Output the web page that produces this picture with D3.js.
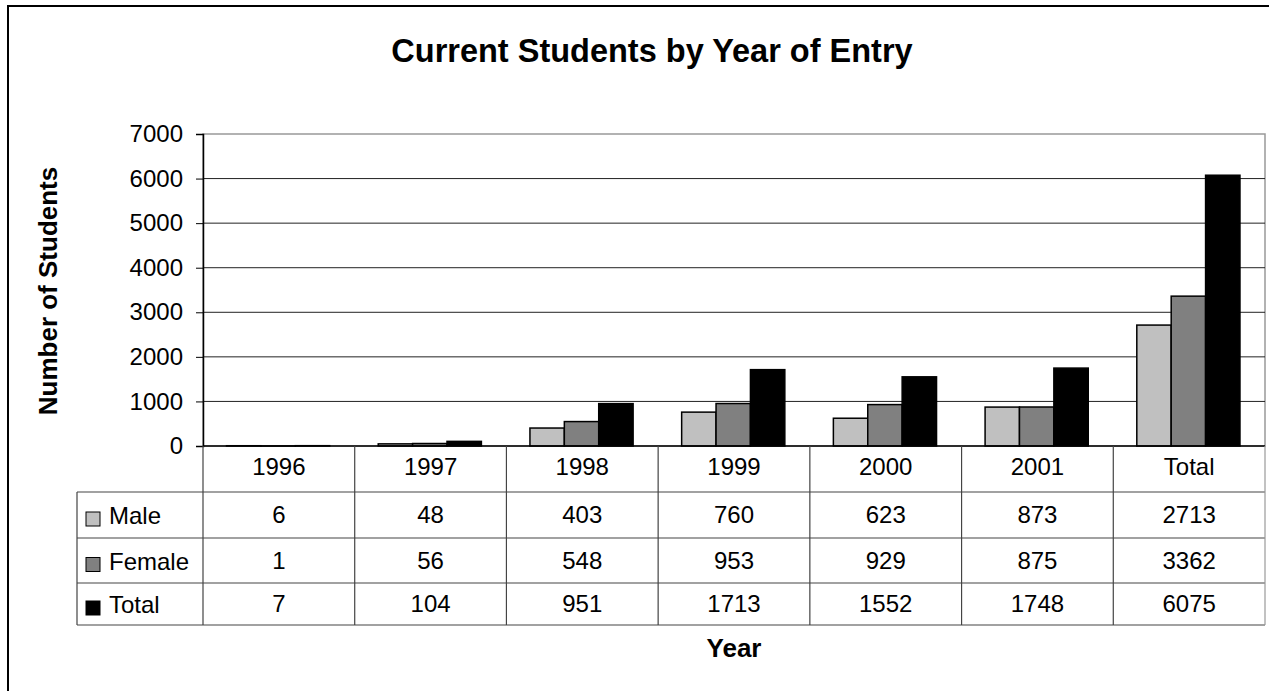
<!DOCTYPE html>
<html>
<head>
<meta charset="utf-8">
<script src="https://cdn.jsdelivr.net/npm/d3@7"></script>
<style>
  body { margin: 0; background: #fff; }
  text { font-family: "Liberation Sans", Arial, sans-serif; fill: #000; }
</style>
</head>
<body>
<div id="chart"></div>
<script>
var categories = ["1996", "1997", "1998", "1999", "2000", "2001", "Total"];
var seriesNames = ["Male", "Female", "Total"];
var maleValues = [6, 48, 403, 760, 623, 873, 2713];
var femaleValues = [1, 56, 548, 953, 929, 875, 3362];
var totalValues = [7, 104, 951, 1713, 1552, 1748, 6075];
var yTicks = [0, 1000, 2000, 3000, 4000, 5000, 6000, 7000];

var seriesValues = [maleValues, femaleValues, totalValues];
var colors = ["#c0c0c0", "#808080", "#000000"];

var width = 1269, height = 691;
var plot = {left: 203, right: 1265, top: 134, bottom: 446};
var rowH = [492, 538, 583, 625]; // bottom of each table row
var legendLeft = 77;
var fontSize = "24px";

var svg = d3.select("#chart").append("svg")
    .attr("width", width)
    .attr("height", height);

// outer frame
svg.append("rect")
    .attr("x", 8).attr("y", 6)
    .attr("width", 1290).attr("height", 720)
    .attr("fill", "none").attr("stroke", "#000").attr("stroke-width", 2);

svg.append("text")
    .attr("x", 652).attr("y", 62)
    .attr("text-anchor", "middle")
    .style("font-size", "32.5px").style("font-weight", "bold")
    .text("Current Students by Year of Entry");

var x = d3.scaleBand()
    .domain(categories)
    .range([plot.left, plot.right])
    .padding(0);

var xs = d3.scaleBand()
    .domain(seriesNames)
    .range([x.bandwidth() * 0.155, x.bandwidth() * 0.835])
    .padding(0);

var y = d3.scaleLinear()
    .domain([0, 7000])
    .range([plot.bottom, plot.top]);

// plot border (gray)
svg.append("rect")
    .attr("x", plot.left).attr("y", plot.top)
    .attr("width", plot.right - plot.left).attr("height", plot.bottom - plot.top)
    .attr("fill", "none").attr("stroke", "#999").attr("stroke-width", 1.5);

// gridlines
svg.append("g")
    .selectAll("line")
    .data(yTicks.filter(function (d) { return d > 0 && d < 7000; }))
    .enter().append("line")
    .attr("x1", plot.left).attr("x2", plot.right)
    .attr("y1", function (d) { return y(d); })
    .attr("y2", function (d) { return y(d); })
    .attr("stroke", "#222").attr("stroke-width", 1);

// y axis
var yAxis = svg.append("g")
    .attr("transform", "translate(" + plot.left + ",0)")
    .call(d3.axisLeft(y).tickValues(yTicks).tickSize(7).tickPadding(13).tickFormat(d3.format("d")));
yAxis.select(".domain").attr("stroke", "#000").attr("stroke-width", 1.5);
yAxis.selectAll(".tick line").attr("stroke", "#000");
yAxis.selectAll("text")
    .style("font-family", "'Liberation Sans', Arial, sans-serif")
    .style("font-size", fontSize).attr("fill", "#000");

svg.append("text")
    .attr("transform", "translate(57," + ((plot.top + plot.bottom) / 2 + 1) + ") rotate(-90)")
    .attr("text-anchor", "middle")
    .style("font-size", "26px").style("font-weight", "bold")
    .text("Number of Students");

// bars
var groups = svg.append("g").selectAll("g")
    .data(categories)
    .enter().append("g")
    .attr("transform", function (d) { return "translate(" + x(d) + ",0)"; });

groups.selectAll("rect")
    .data(function (d, i) {
        return seriesNames.map(function (s, j) {
            return {series: s, value: seriesValues[j][i], color: colors[j]};
        });
    })
    .enter().append("rect")
    .attr("x", function (d) { return xs(d.series); })
    .attr("y", function (d) { return y(d.value); })
    .attr("width", xs.bandwidth())
    .attr("height", function (d) { return y(0) - y(d.value); })
    .attr("fill", function (d) { return d.color; })
    .attr("stroke", "#000").attr("stroke-width", 1.5);

// x baseline
svg.append("line")
    .attr("x1", plot.left).attr("x2", plot.right)
    .attr("y1", plot.bottom).attr("y2", plot.bottom)
    .attr("stroke", "#000").attr("stroke-width", 1.5);

// data table
var table = svg.append("g");
table.selectAll("line.h")
    .data(rowH)
    .enter().append("line")
    .attr("x1", legendLeft)
    .attr("x2", plot.right)
    .attr("y1", function (d) { return d; })
    .attr("y2", function (d) { return d; })
    .attr("stroke", "#444").attr("stroke-width", 1.2);

var colEdges = categories.map(function (c) { return x(c); }).concat([plot.right]);
table.selectAll("line.v")
    .data(colEdges)
    .enter().append("line")
    .attr("x1", function (d) { return d; }).attr("x2", function (d) { return d; })
    .attr("y1", plot.bottom).attr("y2", rowH[3])
    .attr("stroke", function (d, i) { return i === colEdges.length - 1 ? "#999" : "#444"; })
    .attr("stroke-width", 1.2);
table.append("line")
    .attr("x1", legendLeft).attr("x2", legendLeft)
    .attr("y1", rowH[0]).attr("y2", rowH[3])
    .attr("stroke", "#444").attr("stroke-width", 1.2);

// header row labels
table.selectAll("text.cat")
    .data(categories)
    .enter().append("text")
    .attr("x", function (d) { return x(d) + x.bandwidth() / 2; })
    .attr("y", 475)
    .attr("text-anchor", "middle")
    .style("font-size", fontSize)
    .text(function (d) { return d; });

seriesNames.forEach(function (s, j) {
    var top = rowH[j], bottom = rowH[j + 1];
    var mid = (top + bottom) / 2;
    table.append("rect")
        .attr("x", 86).attr("y", mid - 3)
        .attr("width", 14).attr("height", 14)
        .attr("fill", colors[j]).attr("stroke", "#000").attr("stroke-width", 1);
    table.append("text")
        .attr("x", 109).attr("y", mid + 9)
        .style("font-size", fontSize)
        .text(s);
    table.selectAll("text.v" + j)
        .data(seriesValues[j])
        .enter().append("text")
        .attr("x", function (d, i) { return x(categories[i]) + x.bandwidth() / 2; })
        .attr("y", mid + 8)
        .attr("text-anchor", "middle")
        .style("font-size", fontSize)
        .text(function (d) { return d; });
});

svg.append("text")
    .attr("x", (plot.left + plot.right) / 2).attr("y", 657)
    .attr("text-anchor", "middle")
    .style("font-size", "26px").style("font-weight", "bold")
    .text("Year");
</script>
</body>
</html>
